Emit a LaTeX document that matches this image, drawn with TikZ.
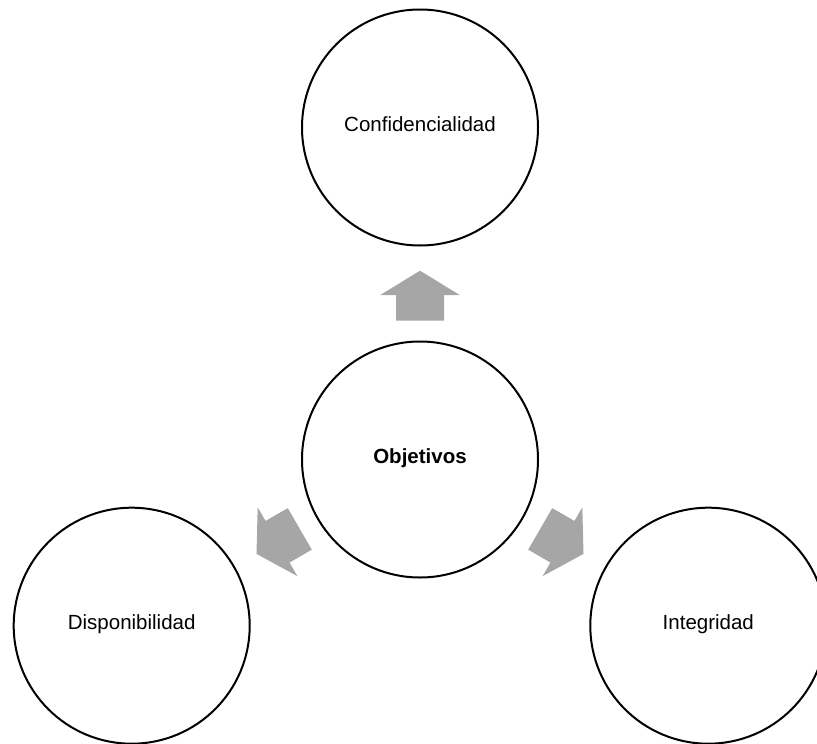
\documentclass[tikz,border=0pt]{standalone}
\usepackage{fontspec}
\setmainfont{Liberation Sans}
\definecolor{arrowgray}{RGB}{166,166,166}
\begin{document}
\begin{tikzpicture}[x=1pt,y=-1pt,
  ring/.style={circle,draw=black,line width=2pt,minimum size=236pt,inner sep=0pt,fill=white,
    font=\fontsize{20.5}{24}\selectfont,text height=0.716em,text depth=0pt},
  blockarrow/.style={fill=arrowgray,draw=none}]
\useasboundingbox (0,0) rectangle (817,744);
\clip (0,0) rectangle (817,744);
\node[ring,font=\bfseries\fontsize{20.5}{24}\selectfont] (obj) at (420,459.5) {Objetivos};
\node[ring] (conf) at (420,127.5) {Confidencialidad};
\node[ring] (disp) at (131.7,625.7) {Disponibilidad};
\node[ring] (integ) at (708.3,625.7) {Integridad};
\foreach \a in {0,120,-120}{
  \path[blockarrow,shift={(obj.center)},rotate=\a]
    (0,-188.8) -- (39.7,-164.5) -- (24,-164.5) -- (24,-138.8)
    -- (-24,-138.8) -- (-24,-164.5) -- (-39.7,-164.5) -- cycle;
}
\end{tikzpicture}
\end{document}
